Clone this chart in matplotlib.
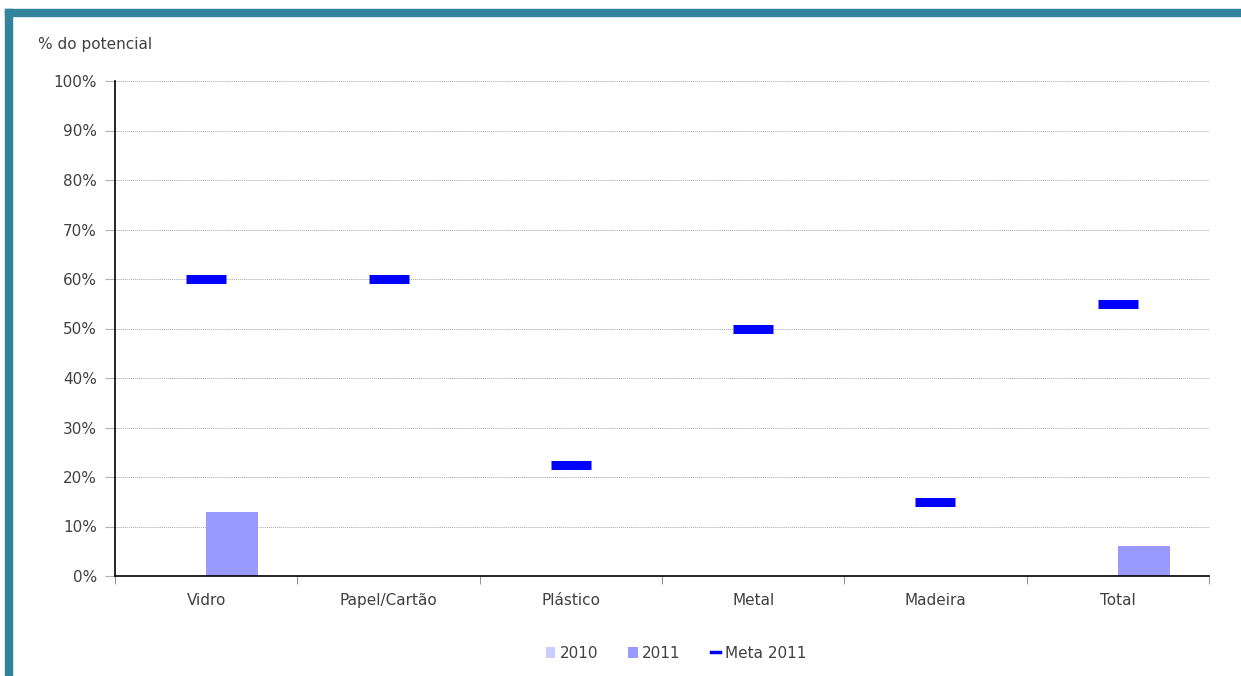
import matplotlib
matplotlib.use("Agg")
import matplotlib.pyplot as plt
from matplotlib.patches import Rectangle
from matplotlib.lines import Line2D
import numpy as np

categories = ["Vidro", "Papel/Cartão", "Plástico", "Metal", "Madeira", "Total"]
v2010 = [0, 0, 0, 0, 0, 0]
v2011 = [13, 0, 0, 0, 0, 6]
meta2011 = [60, 60, 22.5, 50, 15, 55]

txt = "#404040"
fs = 11
fig = plt.figure(figsize=(12.41, 6.76), dpi=100)
# frame
fig.patches.append(Rectangle((5/1241, 0), 7/1241, (676-9)/676, transform=fig.transFigure,
                             color="#31849B", zorder=0))
fig.patches.append(Rectangle((5/1241, (676-16)/676), 1-5/1241, 7/676, transform=fig.transFigure,
                             color="#31849B", zorder=0))

ax = fig.add_axes([115/1241, 100/676, 1094/1241, 495/676])
x = np.arange(len(categories))
w = 0.285
b1 = ax.bar(x - w/2, v2010, width=w, color="#CCCCFF", label="2010", zorder=2)
b2 = ax.bar(x + w/2, v2011, width=w, color="#9999FF", label="2011", zorder=2)
ax.plot(x, meta2011, linestyle="none", marker="_", markersize=29.5, mew=6.5,
        color="#0000FF", zorder=3)

ax.set_xlim(-0.5, len(categories) - 0.5)
ax.set_ylim(0, 100)
ax.set_yticks(np.arange(0, 101, 10))
ax.set_yticklabels([f"{v}%" for v in range(0, 101, 10)], color=txt, fontsize=fs)
ax.set_xticks(x)
ax.set_xticklabels(categories, color=txt, fontsize=fs)
ax.set_xticks(np.arange(-0.5, len(categories), 1), minor=True)
ax.tick_params(axis="x", which="major", length=0, pad=12)
ax.tick_params(axis="x", which="minor", length=6, color="#808080", direction="out")
ax.tick_params(axis="y", length=7, color="#B0B0B0", pad=6)
ax.grid(axis="y", color="#A8A8A8", linewidth=0.7, linestyle=(0, (1, 1)), zorder=1)
for s in ["top", "right"]:
    ax.spines[s].set_visible(False)
ax.spines["left"].set_color("black")
ax.spines["bottom"].set_color("black")
ax.spines["left"].set_linewidth(1.2)
ax.spines["bottom"].set_linewidth(1.2)

fig.text(38/1241, 1 - 45/676, "% do potencial", color=txt, fontsize=fs, va="center", ha="left")

meta_handle = Line2D([], [], color="#0000FF", linewidth=2.5)
leg = fig.legend([b1, b2, meta_handle], ["2010", "2011", "Meta 2011"],
                 loc="center", bbox_to_anchor=(676/1241, 1 - 653/676), ncol=3, frameon=False,
                 fontsize=fs, handlelength=0.6, handleheight=0.7, handletextpad=0.3,
                 columnspacing=2.0)
for t in leg.get_texts():
    t.set_color(txt)

fig.savefig("out.png", dpi=100)
